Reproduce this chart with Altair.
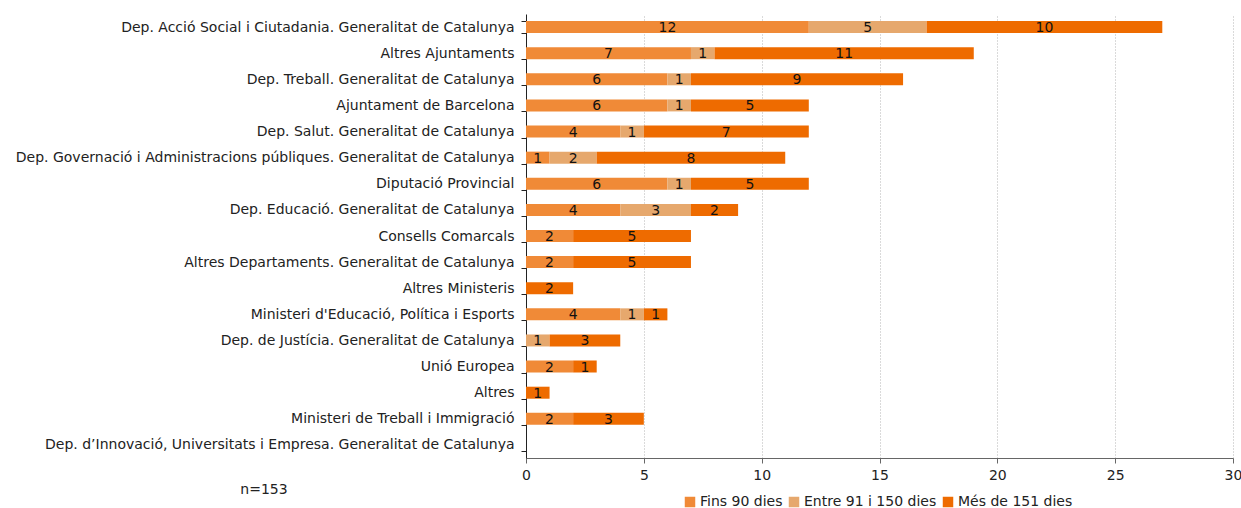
import altair as alt
import pandas as pd

categories = [
    "Dep. Acció Social i Ciutadania. Generalitat de Catalunya",
    "Altres Ajuntaments",
    "Dep. Treball. Generalitat de Catalunya",
    "Ajuntament de Barcelona",
    "Dep. Salut. Generalitat de Catalunya",
    "Dep. Governació i Administracions públiques. Generalitat de Catalunya",
    "Diputació Provincial",
    "Dep. Educació. Generalitat de Catalunya",
    "Consells Comarcals",
    "Altres Departaments. Generalitat de Catalunya",
    "Altres Ministeris",
    "Ministeri d'Educació, Política i Esports",
    "Dep. de Justícia. Generalitat de Catalunya",
    "Unió Europea",
    "Altres",
    "Ministeri de Treball i Immigració",
    "Dep. d’Innovació, Universitats i Empresa. Generalitat de Catalunya",
]
series = ["Fins 90 dies", "Entre 91 i 150 dies", "Més de 151 dies"]
fins_90 = [12, 7, 6, 6, 4, 1, 6, 4, 2, 2, 0, 4, 0, 2, 0, 2, 0]
entre_91_150 = [5, 1, 1, 1, 1, 2, 1, 3, 0, 0, 0, 1, 1, 0, 0, 0, 0]
mes_151 = [10, 11, 9, 5, 7, 8, 5, 2, 5, 5, 2, 1, 3, 1, 1, 3, 0]
colors = ["#F08A37", "#E6A86D", "#EE6B00"]

rows = []
for i, c in enumerate(categories):
    for j, (s, vals) in enumerate(zip(series, [fins_90, entre_91_150, mes_151])):
        rows.append({"cat": c, "serie": s, "ord": j, "value": vals[i]})
df = pd.DataFrame(rows)

FONT = "DejaVu Sans"
FS = 14

base = alt.Chart(df).transform_stack(
    stack="value", groupby=["cat"], as_=["v0", "v1"],
    sort=[alt.SortField("ord", order="ascending")],
)

y_enc = alt.Y(
    "cat:N", sort=categories, title=None,
    scale=alt.Scale(paddingInner=0.54, paddingOuter=0.27),
    axis=alt.Axis(
        tickBand="extent", labelFont=FONT, labelFontSize=FS, labelColor="#222",
        labelPadding=7, tickSize=5, tickColor="#222", domainColor="#222",
        labelLimit=600, grid=False,
    ),
)

bars = base.mark_bar().encode(
    x=alt.X(
        "v0:Q", title=None,
        scale=alt.Scale(domain=[0, 30], nice=False),
        axis=alt.Axis(
            values=[0, 5, 10, 15, 20, 25, 30], grid=True, gridColor="#b4b4b4",
            gridDash=[1, 2], labelFont=FONT, labelFontSize=FS, labelColor="#222",
            tickSize=5, tickColor="#666", domainColor="#666", labelPadding=5,
            labelFlush=False,
        ),
    ),
    x2="v1:Q",
    y=y_enc,
    color=alt.Color(
        "serie:N", sort=series,
        scale=alt.Scale(domain=series, range=colors),
        legend=alt.Legend(
            title=None, orient="none", direction="horizontal",
            legendX=157, legendY=481,
            symbolType="square", symbolSize=110, symbolStrokeWidth=0,
            labelFont=FONT, labelFontSize=FS, labelColor="#222",
            columnPadding=4, labelOffset=3,
        ),
    ),
    order=alt.Order("ord:Q"),
)

labels = base.transform_calculate(mid="(datum.v0 + datum.v1) / 2").transform_filter(
    "datum.value > 0"
).mark_text(font=FONT, fontSize=FS, color="#111", baseline="middle", dy=1).encode(
    x=alt.X("mid:Q"),
    y=alt.Y("cat:N", sort=categories),
    text=alt.Text("value:Q"),
)

note = alt.Chart(pd.DataFrame({"t": ["n=153"]})).mark_text(
    font=FONT, fontSize=FS, color="#222", align="center", baseline="middle"
).encode(x=alt.value(-262), y=alt.value(476), text="t:N")

chart = alt.layer(bars, labels, note).properties(
    width=707, height=444,
    background="white",
    autosize=alt.AutoSizeParams(type="none"),
    padding={"left": 526, "top": 14, "right": 8, "bottom": 50},
).configure_view(strokeWidth=0, stroke="transparent")

chart.save("out.html", embed_options={"renderer": "svg", "actions": False})
